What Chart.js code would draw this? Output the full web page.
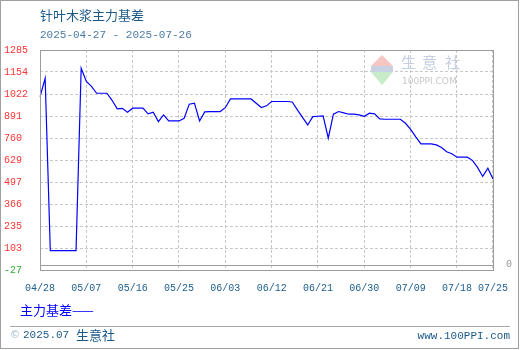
<!DOCTYPE html>
<html>
<head>
<meta charset="utf-8">
<script src="https://cdn.jsdelivr.net/npm/chart.js@4.4.1/dist/chart.umd.min.js"></script>
<style>
body { margin: 0; background: #fff; }
#wrap { width: 520px; height: 350px; }
</style>
</head>
<body>
<div id="wrap"><canvas id="basisChart" width="520" height="350"></canvas></div>
<script>
const dates = [
    '04/28','04/29','04/30',
    '05/01','05/02','05/03','05/04','05/05','05/06','05/07','05/08','05/09','05/10',
    '05/11','05/12','05/13','05/14','05/15','05/16','05/17','05/18','05/19','05/20',
    '05/21','05/22','05/23','05/24','05/25','05/26','05/27','05/28','05/29','05/30','05/31',
    '06/01','06/02','06/03','06/04','06/05','06/06','06/07','06/08','06/09','06/10',
    '06/11','06/12','06/13','06/14','06/15','06/16','06/17','06/18','06/19','06/20',
    '06/21','06/22','06/23','06/24','06/25','06/26','06/27','06/28','06/29','06/30',
    '07/01','07/02','07/03','07/04','07/05','07/06','07/07','07/08','07/09','07/10',
    '07/11','07/12','07/13','07/14','07/15','07/16','07/17','07/18','07/19','07/20',
    '07/21','07/22','07/23','07/24','07/25'
];

const basis = [
    1005, 1116, 88, 88, 88, 88, 88, 88, 1176, 1097,
    1068, 1027, 1027, 1027, 985, 934, 937, 914, 938, 938,
    938, 904, 914, 858, 898, 862, 862, 862, 878, 962,
    968, 862, 916, 918, 918, 918, 941, 993, 993, 993,
    993, 993, 967, 942, 952, 978, 978, 978, 978, 975,
    928, 883, 838, 888, 890, 892, 759, 902, 918, 910,
    902, 902, 898, 890, 908, 904, 874, 872, 872, 872,
    872, 848, 812, 767, 725, 725, 725, 719, 704, 678,
    666, 646, 646, 646, 627, 585, 531, 580, 515
];

const yTicks = [-27, 103, 235, 366, 497, 629, 760, 891, 1022, 1154, 1285];
const xTickLabels = ['04/28','05/07','05/16','05/25','06/03','06/12','06/21','06/30','07/09','07/18','07/25'];

const CJK = '"Noto Sans CJK SC", sans-serif';
const MONO = '"Liberation Mono", "DejaVu Sans Mono", monospace';

// frame, titles, watermark and footer around the plot
const decorPlugin = {
    id: 'decor',
    beforeDraw(chart) {
        const ctx = chart.ctx;
        ctx.save();
        ctx.fillStyle = '#fff';
        ctx.fillRect(0, 0, chart.width, chart.height);
        ctx.restore();
    },
    beforeDatasetsDraw(chart) {
        const ctx = chart.ctx;
        ctx.save();
        // faint logo
        ctx.fillStyle = '#f6c6c2';
        ctx.beginPath();
        ctx.moveTo(382, 55); ctx.lineTo(393, 66); ctx.lineTo(371, 66); ctx.closePath();
        ctx.fill();
        ctx.fillStyle = '#c9d2e4';
        ctx.fillRect(371, 66, 22, 6);
        ctx.fillStyle = '#c8ecc8';
        ctx.beginPath();
        ctx.moveTo(371, 72); ctx.lineTo(393, 72); ctx.lineTo(382, 85); ctx.closePath();
        ctx.fill();
        ctx.fillStyle = '#c5cde0';
        ctx.font = '15px ' + CJK;
        ctx.textBaseline = 'middle';
        ctx.fillText('生', 401, 62);
        ctx.fillText('意', 422, 62);
        ctx.fillText('社', 445, 62);
        ctx.fillStyle = '#c8c8c8';
        ctx.font = '9px "DejaVu Sans", sans-serif';
        ctx.fillText('100PPI.COM', 402, 82);
        ctx.restore();
    },
    afterDraw(chart) {
        const ctx = chart.ctx;
        const area = chart.chartArea;
        ctx.save();
        ctx.strokeStyle = '#9c9c9c';
        ctx.lineWidth = 1;
        ctx.strokeRect(area.left + 0.5, area.top + 0.5, area.right - area.left, area.bottom - area.top);
        ctx.beginPath();
        ctx.moveTo(area.left, 265.5);
        ctx.lineTo(area.right, 265.5);
        ctx.stroke();

        ctx.textBaseline = 'middle';
        ctx.fillStyle = '#999';
        ctx.font = '10px ' + MONO;
        ctx.fillText('0', 506, 264);

        ctx.fillStyle = '#1b5a89';
        ctx.font = '13px ' + CJK;
        ctx.fillText('针叶木浆主力基差', 40, 15);
        ctx.fillStyle = '#4a7ba6';
        ctx.font = '11px ' + MONO;
        ctx.fillText('2025-04-27 - 2025-07-26', 40, 35);

        ctx.fillStyle = '#0000ff';
        ctx.font = '13px ' + CJK;
        ctx.fillText('主力基差——', 20, 310);

        ctx.strokeStyle = '#a8a8a8';
        ctx.beginPath();
        ctx.moveTo(10, 326.5);
        ctx.lineTo(510, 326.5);
        ctx.stroke();

        ctx.fillStyle = '#9fb8cc';
        ctx.font = '10px "DejaVu Sans", sans-serif';
        ctx.fillText('©', 10, 335);
        ctx.fillStyle = '#1b5a89';
        ctx.font = '11px ' + MONO;
        ctx.fillText('2025.07', 23, 335);
        ctx.font = '13px ' + CJK;
        ctx.fillText('生意社', 76, 335);
        ctx.font = '11px ' + MONO;
        ctx.textAlign = 'right';
        ctx.fillText('www.100PPI.com', 510, 336);

        ctx.strokeStyle = '#a0a0a0';
        ctx.strokeRect(0.5, 0.5, 518, 348);
        ctx.restore();
    }
};

const chart = new Chart(document.getElementById('basisChart'), {
    type: 'line',
    data: {
        labels: dates,
        datasets: [{
            label: '主力基差',
            data: basis,
            borderColor: '#0000ff',
            borderWidth: 1.2,
            pointRadius: 0,
            tension: 0,
            fill: false
        }]
    },
    options: {
        responsive: false,
        animation: false,
        layout: { padding: { left: 4, right: 20, top: 50, bottom: 0 } },
        plugins: {
            legend: { display: false },
            tooltip: { enabled: false }
        },
        scales: {
            x: {
                grid: {
                    drawTicks: false,
                    color: ctx => xTickLabels.includes(dates[ctx.index]) ? '#c8c8c8' : 'rgba(0,0,0,0)'
                },
                border: { display: false, dash: [3, 2] },
                ticks: {
                    autoSkip: false,
                    maxRotation: 0,
                    minRotation: 0,
                    padding: 12,
                    color: '#1b5e8e',
                    font: { family: MONO, size: 10 },
                    callback: (v, i) => xTickLabels.includes(dates[i]) ? dates[i] : ''
                },
                afterFit: scale => { scale.height = 80; }
            },
            y: {
                min: -27,
                max: 1285,
                afterBuildTicks: scale => {
                    scale.ticks = yTicks.map(v => ({ value: v }));
                },
                grid: { drawTicks: false, color: '#c8c8c8' },
                border: { display: false, dash: [3, 2] },
                ticks: {
                    crossAlign: 'far',
                    padding: 0,
                    color: ctx => ctx.tick.value < 0 ? '#33aa33' : '#ff3333',
                    font: { family: MONO, size: 10 },
                    callback: v => String(v)
                },
                afterFit: scale => { scale.width = 36; }
            }
        }
    },
    plugins: [decorPlugin]
});
</script>
</body>
</html>
